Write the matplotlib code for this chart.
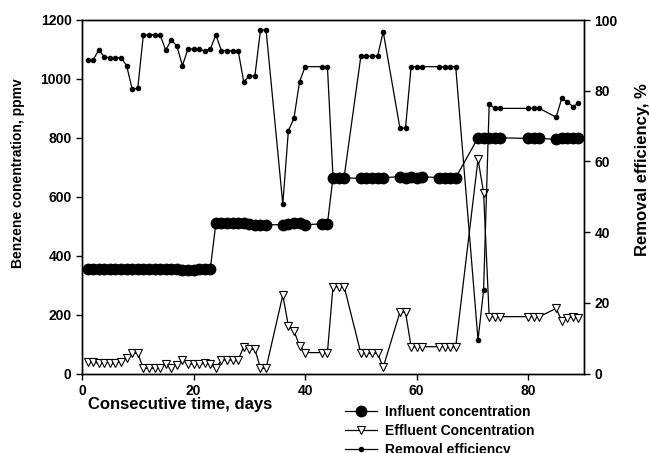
import matplotlib
matplotlib.use("Agg")
import matplotlib.pyplot as plt
import numpy as np

plt.rcParams['font.family'] = ['Liberation Sans', 'DejaVu Sans']
plt.rcParams['font.weight'] = 'bold'

days = [1, 2, 3, 4, 5, 6, 7, 8, 9, 10, 11, 12, 13, 14, 15, 16, 17, 18, 19, 20,
        21, 22, 23, 24, 25, 26, 27, 28, 29, 30, 31, 32, 33,
        36, 37, 38, 39, 40, 43, 44, 45, 46, 47, 50, 51, 52, 53, 54,
        57, 58, 59, 60, 61, 64, 65, 66, 67, 71, 72, 73, 74, 75,
        80, 81, 82, 85, 86, 87, 88, 89]

influent = [355, 355, 355, 355, 355, 355, 355, 355, 355, 355, 355, 355, 355, 355, 355, 355, 355, 352, 350, 352,
            355, 355, 355, 510, 510, 510, 510, 510, 510, 508, 505, 505, 505,
            505, 508, 510, 510, 505, 508, 508, 665, 665, 665, 662, 665, 665, 665, 665,
            668, 665, 668, 665, 668, 665, 662, 665, 665, 800, 800, 800, 800, 800,
            798, 798, 798, 795, 798, 800, 800, 798]

effluent = [40, 40, 34, 37, 37, 37, 40, 52, 71, 68, 18, 18, 18, 18, 32, 18, 29, 46, 32, 32,
            32, 34, 32, 18, 46, 46, 46, 46, 91, 82, 82, 18, 18,
            266, 162, 145, 94, 71, 71, 71, 295, 295, 295, 68, 68, 68, 68, 21,
            208, 208, 91, 91, 91, 91, 91, 91, 91, 727, 614, 193, 193, 193,
            193, 193, 193, 221, 179, 187, 193, 190]

removal = [88.7, 88.7, 91.5, 89.6, 89.3, 89.3, 89.3, 87.1, 80.4, 80.7, 95.8, 95.8, 95.8, 95.8, 91.5, 94.3, 92.7, 87.1, 91.8, 91.8,
           91.8, 91.2, 91.8, 95.8, 91.3, 91.3, 91.3, 91.3, 82.5, 84.2, 84.2, 97.2, 97.2,
           47.9, 68.7, 72.2, 82.5, 86.8, 86.8, 86.8, 55.6, 55.6, 55.6, 89.8, 89.8, 89.8, 89.8, 96.7,
           69.4, 69.4, 86.8, 86.8, 86.8, 86.8, 86.8, 86.8, 86.8, 9.5, 23.6, 76.2, 75.0, 75.0,
           75.0, 75.0, 75.0, 72.5, 77.8, 76.9, 75.5, 76.4]

W, H = 649, 453
fig = plt.figure(figsize=(W / 100, H / 100), dpi=100)
L, R, T, B = 82, 584, 20, 373.5
ax = fig.add_axes([L / W, 1 - B / H, (R - L) / W, (B - T) / H])
ax2 = ax.twinx()

l1, = ax.plot(days, influent, color='black', lw=0.9, marker='o', markersize=7.5,
              markerfacecolor='black', markeredgecolor='black', label='Influent concentration', zorder=3)
l2, = ax.plot(days, effluent, color='black', lw=0.9, marker='v', markersize=6,
              markerfacecolor='white', markeredgecolor='black', markeredgewidth=0.8,
              label='Effluent Concentration', zorder=3)
l3, = ax2.plot(days, removal, color='black', lw=0.9, marker='o', markersize=3,
               markerfacecolor='black', markeredgecolor='black', label='Removal efficiency')

ax.set_xlim(0, 90)
ax.set_ylim(0, 1200)
ax2.set_ylim(0, 100)
ax.set_xticks([0, 20, 40, 60, 80])
ax.set_yticks([0, 200, 400, 600, 800, 1000, 1200])
ax2.set_yticks([0, 20, 40, 60, 80, 100])

for a in (ax, ax2):
    a.tick_params(direction='out', length=4, width=1, labelsize=10)
    for s in a.spines.values():
        s.set_linewidth(1)
for lab in ax.get_xticklabels() + ax.get_yticklabels() + ax2.get_yticklabels():
    lab.set_fontweight('bold')

fig.text(18 / W, 1 - 173 / H, 'Benzene conentration, ppmv', rotation=90,
         ha='center', va='center', fontsize=10, fontweight='bold')
fig.text(642 / W, 1 - 170 / H, 'Removal efficiency, %', rotation=90,
         ha='center', va='center', fontsize=12, fontweight='bold')
fig.text(180 / W, 1 - 405 / H, 'Consecutive time, days',
         ha='center', va='center', fontsize=12, fontweight='bold')

leg = fig.legend(handles=[l1, l2, l3], loc='upper left',
                 bbox_to_anchor=(345 / W, 1 - 405 / H), frameon=False,
                 borderpad=0, borderaxespad=0, handlelength=2.3, handletextpad=0.6,
                 labelspacing=0.35, prop={'weight': 'bold', 'size': 10})

fig.savefig('out.png', dpi=100)
